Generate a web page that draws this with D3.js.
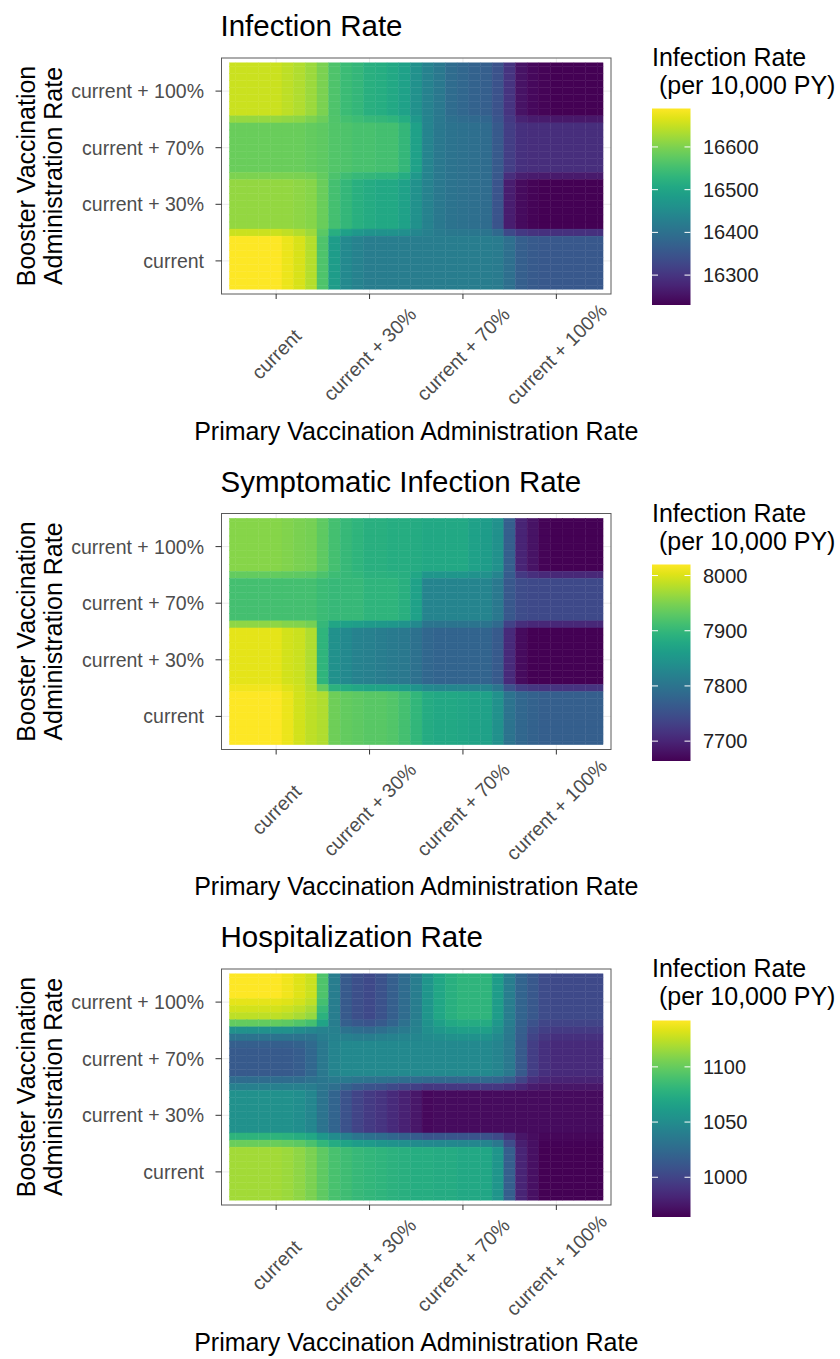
<!DOCTYPE html>
<html>
<head>
<meta charset="utf-8">
<script src="https://cdn.jsdelivr.net/npm/d3@7"></script>
<style>
body { margin: 0; background: #fff; }
svg text { font-family: "Liberation Sans", Arial, Helvetica, sans-serif; }
</style>
</head>
<body>
<div id="viz"></div>
<script>
// Rate levels shared by both axes (0 = current ... 3 = current + 100%)
var rateLabels = ["current", "current + 30%", "current + 70%", "current + 100%"]
var ratePos = [0, 1, 2, 3]

// Centres of the smoothed grid: primary rate (columns, left to right)
var gridX = [-0.5, -0.375, -0.25, -0.125, 0, 0.125, 0.25, 0.375, 0.5, 0.625, 0.75, 0.875, 1,
             1.125, 1.25, 1.375, 1.5, 1.625, 1.75, 1.875, 2, 2.125, 2.25, 2.375, 2.5,
             2.625, 2.75, 2.875, 3, 3.125, 3.25, 3.375, 3.5]
// booster rate (rows, top of the panel first)
var gridY = [3.5, 3.375, 3.25, 3.125, 3, 2.875, 2.75, 2.625, 2.5, 2.375, 2.25, 2.125, 2,
             1.875, 1.75, 1.625, 1.5, 1.375, 1.25, 1.125, 1, 0.875, 0.75, 0.625, 0.5,
             0.375, 0.25, 0.125, 0, -0.125, -0.25, -0.375, -0.5]

var panelTitles = ["Infection Rate", "Symptomatic Infection Rate", "Hospitalization Rate"]
var legendTitle = ["Infection Rate", " (per 10,000 PY)"]

var infectionTicks = [16300, 16400, 16500, 16600]
var symptomaticTicks = [7700, 7800, 7900, 8000]
var hospitalTicks = [1000, 1050, 1100]

// ---- Infection rate per 10,000 PY, one array per distinct row of the grid
var infTop  = [16653,16653,16653,16653,16653,16644,16635,16621,16598,16561,16543,16534,16520,16515,16506,16492,16460,16432,16414,16391,16382,16373,16368,16345,16299,16253,16239,16235,16230,16230,16230,16230,16230]
var infTM   = [16618,16618,16618,16618,16618,16614,16610,16600,16587,16564,16552,16546,16538,16534,16529,16513,16476,16435,16414,16398,16391,16385,16380,16352,16306,16274,16265,16263,16260,16260,16260,16260,16260]
var infMid  = [16584,16584,16584,16584,16584,16584,16584,16580,16575,16566,16561,16557,16557,16552,16552,16534,16492,16437,16414,16405,16400,16396,16391,16359,16313,16294,16290,16290,16290,16290,16290,16290,16290]
var infML   = [16600,16600,16600,16600,16600,16600,16598,16594,16580,16559,16548,16539,16534,16529,16529,16513,16476,16435,16414,16405,16400,16396,16391,16355,16290,16269,16263,16261,16261,16261,16261,16261,16261]
var infLow  = [16616,16616,16616,16616,16616,16616,16612,16607,16584,16552,16534,16520,16511,16506,16506,16492,16460,16432,16414,16405,16400,16396,16391,16350,16267,16244,16235,16231,16231,16231,16231,16231,16231]
var infLB   = [16653,16653,16653,16653,16653,16646,16637,16623,16573,16518,16490,16476,16467,16465,16465,16458,16442,16428,16419,16414,16412,16410,16407,16385,16332,16306,16297,16293,16293,16293,16293,16293,16293]
var infBase = [16690,16690,16690,16690,16690,16676,16662,16639,16561,16483,16446,16432,16423,16423,16423,16423,16423,16423,16423,16423,16423,16423,16423,16419,16396,16368,16359,16354,16354,16354,16354,16354,16354]

var infectionRows = [infTop, infTop, infTop, infTop, infTop, infTop, infTop, infTop, infTM,
    infMid, infMid, infMid, infMid, infMid, infMid, infMid, infML,
    infLow, infLow, infLow, infLow, infLow, infLow, infLow, infLB,
    infBase, infBase, infBase, infBase, infBase, infBase, infBase, infBase]

// ---- Symptomatic infection rate per 10,000 PY
var symTop  = [7956,7956,7956,7956,7956,7952,7949,7945,7931,7913,7903,7895,7888,7888,7885,7885,7881,7878,7878,7878,7878,7867,7860,7842,7771,7700,7682,7668,7664,7664,7664,7664,7664]
var symTM   = [7935,7935,7935,7935,7935,7933,7931,7929,7919,7908,7903,7899,7892,7892,7890,7887,7874,7851,7851,7851,7851,7846,7842,7824,7766,7723,7712,7705,7703,7703,7703,7703,7703]
var symMid  = [7913,7913,7913,7913,7913,7913,7913,7913,7906,7903,7903,7903,7895,7895,7895,7888,7867,7824,7824,7824,7824,7824,7824,7806,7760,7746,7742,7742,7742,7742,7742,7742,7742]
var symML   = [7960,7960,7960,7960,7960,7954,7953,7945,7901,7873,7867,7862,7856,7855,7853,7847,7832,7803,7801,7801,7801,7801,7801,7785,7734,7711,7704,7704,7704,7704,7704,7704,7704]
var symLow  = [8006,8006,8006,8006,8006,7995,7992,7977,7895,7842,7831,7821,7817,7814,7810,7806,7796,7781,7778,7778,7778,7778,7778,7764,7707,7675,7665,7665,7665,7665,7665,7665,7665]
var symLB   = [8013,8013,8013,8013,8013,8002,7994,7981,7936,7892,7883,7876,7872,7871,7867,7860,7848,7831,7828,7828,7826,7824,7823,7803,7753,7728,7720,7718,7718,7718,7718,7718,7718]
var symBase = [8020,8020,8020,8020,8020,8009,7995,7984,7977,7942,7935,7931,7927,7927,7924,7913,7899,7881,7878,7878,7874,7870,7867,7842,7799,7781,7774,7771,7771,7771,7771,7771,7771]

var symptomaticRows = [symTop, symTop, symTop, symTop, symTop, symTop, symTop, symTop, symTM,
    symMid, symMid, symMid, symMid, symMid, symMid, symML,
    symLow, symLow, symLow, symLow, symLow, symLow, symLow, symLow, symLB,
    symBase, symBase, symBase, symBase, symBase, symBase, symBase, symBase]

// ---- Hospitalization rate per 10,000 PY
var hos100  = [1142,1142,1142,1142,1142,1138,1133,1128,1092,1039,1014,1007,1003,1009,1017,1026,1039,1057,1069,1076,1080,1080,1080,1062,1039,1021,1012,1005,1003,1003,1003,1003,1003]
var hosA    = [1135,1135,1135,1135,1135,1133,1130,1124,1089,1039,1014,1007,1003,1009,1017,1026,1039,1057,1069,1076,1080,1080,1080,1062,1039,1021,1012,1005,1003,1003,1003,1003,1003]
var hosB    = [1130,1130,1130,1130,1130,1128,1124,1119,1083,1039,1014,1007,1003,1009,1017,1026,1039,1057,1069,1076,1080,1080,1080,1062,1039,1021,1012,1005,1003,1003,1003,1003,1003]
var hosC    = [1124,1124,1124,1124,1124,1122,1119,1114,1078,1039,1014,1007,1003,1009,1017,1026,1039,1057,1069,1076,1080,1080,1080,1062,1039,1021,1012,1005,1003,1003,1003,1003,1003]
var hosD    = [1099,1099,1099,1099,1099,1098,1094,1089,1067,1039,1017,1012,1010,1014,1021,1030,1041,1055,1064,1071,1073,1073,1073,1058,1039,1019,1009,1001,1000,1000,1000,1000,1000]
var hosE    = [1053,1053,1053,1053,1053,1053,1049,1046,1042,1041,1031,1027,1025,1028,1033,1037,1043,1052,1058,1062,1064,1064,1064,1053,1037,1017,1004,997,994,994,994,994,994]
var hosF    = [1032,1032,1032,1032,1032,1032,1032,1032,1039,1042,1041,1039,1039,1041,1042,1044,1046,1049,1051,1053,1055,1055,1055,1048,1035,1016,1000,992,989,989,989,989,989]
var hosG    = [1017,1017,1017,1017,1017,1017,1019,1025,1035,1044,1048,1048,1048,1048,1048,1048,1048,1048,1048,1048,1048,1048,1048,1044,1035,1014,996,989,985,985,985,985,985]
var hos70   = [1014,1014,1014,1014,1014,1014,1016,1023,1035,1044,1048,1048,1048,1048,1048,1048,1048,1048,1048,1048,1048,1048,1048,1044,1035,1014,996,989,985,985,985,985,985]
var hosH    = [1026,1026,1026,1026,1026,1026,1026,1030,1034,1037,1036,1033,1032,1031,1029,1027,1026,1024,1024,1024,1024,1024,1024,1022,1015,1000,988,983,981,981,981,981,981]
var hosI    = [1041,1041,1041,1041,1041,1041,1041,1039,1033,1028,1020,1014,1010,1008,1004,1000,997,992,993,993,993,993,993,992,989,983,977,975,974,974,974,974,974]
var hos30   = [1053,1053,1053,1053,1053,1053,1051,1046,1032,1021,1009,1000,994,991,985,980,975,968,969,969,969,969,969,969,969,969,969,969,969,969,969,969,969]
var hosJ    = [1079,1079,1079,1079,1079,1078,1075,1070,1058,1049,1040,1033,1029,1026,1022,1018,1015,1010,1011,1011,1010,1010,1009,1004,989,974,970,967,967,967,967,967,967]
var hosK    = [1101,1101,1101,1101,1101,1099,1097,1091,1081,1073,1067,1062,1060,1057,1055,1052,1049,1048,1047,1047,1046,1046,1044,1035,1005,979,971,965,965,965,965,965,965]
var hosCur  = [1117,1117,1117,1117,1117,1115,1112,1106,1098,1090,1087,1083,1081,1080,1078,1076,1074,1074,1073,1073,1071,1071,1069,1057,1017,982,971,964,964,964,964,964,964]

var hospitalRows = [hos100, hos100, hos100, hos100, hosA, hosB, hosC, hosD, hosE, hosF, hosG,
    hos70, hos70, hos70, hos70, hosH, hosI,
    hos30, hos30, hos30, hos30, hos30, hos30, hosJ, hosK,
    hosCur, hosCur, hosCur, hosCur, hosCur, hosCur, hosCur, hosCur]

var panels = [
  {title: panelTitles[0], rows: infectionRows, ticks: infectionTicks},
  {title: panelTitles[1], rows: symptomaticRows, ticks: symptomaticTicks},
  {title: panelTitles[2], rows: hospitalRows, ticks: hospitalTicks}
]

var svg = d3.select("#viz")
    .append("svg")
    .attr("width", 840)
    .attr("height", 1359)

var defs = svg.append("defs")

// vertical viridis gradient used by the colour bars
var grad = defs.append("linearGradient")
    .attr("id", "viridisBar")
    .attr("x1", 0).attr("y1", 1)
    .attr("x2", 0).attr("y2", 0)
grad.selectAll("stop")
    .data(d3.range(0, 1.0001, 0.05))
    .enter()
    .append("stop")
    .attr("offset", d => d)
    .attr("stop-color", d => d3.interpolateViridis(d))

var half = 0.0625
var lo = -0.5, hi = 3.5

function drawPanel(p, i) {
    var dy = i * 455.5
    var ldy = i * 456
    var g = svg.append("g")

    var x = d3.scaleLinear().domain([-0.585, 3.585]).range([221.5, 611])
    var y = d3.scaleLinear().domain([-0.585, 3.585]).range([294 + dy, 58 + dy])

    var cells = []
    p.rows.forEach((row, r) => {
        row.forEach((v, c) => cells.push({x: gridX[c], y: gridY[r], v: v}))
    })
    var ext = d3.extent(cells, d => d.v)
    var color = d3.scaleSequential(d3.interpolateViridis).domain(ext)

    // plot title
    g.append("text")
        .attr("x", 220.5)
        .attr("y", 36 + dy)
        .style("font-size", "29.5px")
        .style("fill", "#000")
        .text(p.title)

    // grid lines under the tiles
    g.selectAll("line.gx")
        .data(ratePos)
        .enter()
        .append("line")
        .attr("x1", d => x(d)).attr("x2", d => x(d))
        .attr("y1", y.range()[0]).attr("y2", y.range()[1])
        .style("stroke", "#ebebeb")
    g.selectAll("line.gy")
        .data(ratePos)
        .enter()
        .append("line")
        .attr("y1", d => y(d)).attr("y2", d => y(d))
        .attr("x1", x.range()[0]).attr("x2", x.range()[1])
        .style("stroke", "#ebebeb")

    // heat tiles
    g.selectAll("rect.cell")
        .data(cells)
        .enter()
        .append("rect")
        .attr("x", d => x(Math.max(d.x - half, lo)))
        .attr("width", d => x(Math.min(d.x + half, hi)) - x(Math.max(d.x - half, lo)))
        .attr("y", d => y(Math.min(d.y + half, hi)))
        .attr("height", d => y(Math.max(d.y - half, lo)) - y(Math.min(d.y + half, hi)))
        .style("fill", d => color(d.v))
        .style("stroke", d => color(d.v))
        .style("stroke-width", 0.4)

    // panel border
    g.append("rect")
        .attr("x", x.range()[0]).attr("y", y.range()[1])
        .attr("width", x.range()[1] - x.range()[0])
        .attr("height", y.range()[0] - y.range()[1])
        .style("fill", "none")
        .style("stroke", "#5a5a5a")
        .style("stroke-width", 1)

    // x ticks and rotated labels
    g.selectAll("line.tx")
        .data(ratePos)
        .enter()
        .append("line")
        .attr("x1", d => x(d)).attr("x2", d => x(d))
        .attr("y1", y.range()[0]).attr("y2", y.range()[0] + 5)
        .style("stroke", "#333")
    g.selectAll("text.tx")
        .data(ratePos)
        .enter()
        .append("text")
        .attr("transform", d => "translate(" + x(d) + "," + (354 + dy) + ") rotate(-45)")
        .attr("text-anchor", "middle")
        .attr("dominant-baseline", "central")
        .style("font-size", "19.5px")
        .style("fill", "#4d4d4d")
        .text(d => rateLabels[d])

    // y ticks and labels
    g.selectAll("line.ty")
        .data(ratePos)
        .enter()
        .append("line")
        .attr("x1", x.range()[0] - 6).attr("x2", x.range()[0])
        .attr("y1", d => y(d)).attr("y2", d => y(d))
        .style("stroke", "#333")
    g.selectAll("text.ty")
        .data(ratePos)
        .enter()
        .append("text")
        .attr("x", 204)
        .attr("y", d => y(d))
        .attr("text-anchor", "end")
        .attr("dominant-baseline", "central")
        .style("font-size", "19.5px")
        .style("fill", "#4d4d4d")
        .text(d => rateLabels[d])

    // axis titles
    g.append("text")
        .attr("x", (x.range()[0] + x.range()[1]) / 2)
        .attr("y", 439.5 + dy)
        .attr("text-anchor", "middle")
        .style("font-size", "25px")
        .text("Primary Vaccination Administration Rate")
    var cy = (y.range()[0] + y.range()[1]) / 2
    g.append("text")
        .attr("transform", "translate(35," + cy + ") rotate(-90)")
        .attr("text-anchor", "middle")
        .style("font-size", "25px")
        .text("Booster Vaccination")
    g.append("text")
        .attr("transform", "translate(62," + cy + ") rotate(-90)")
        .attr("text-anchor", "middle")
        .style("font-size", "25px")
        .text("Administration Rate")

    // legend: title, colour bar, ticks, labels
    g.selectAll("text.lt")
        .data(legendTitle)
        .enter()
        .append("text")
        .attr("x", 652)
        .attr("y", (d, k) => 66 + dy + k * 28)
        .style("font-size", "25px")
        .style("white-space", "pre")
        .attr("xml:space", "preserve")
        .text(d => d)

    var ly = d3.scaleLinear().domain(ext).range([305 + ldy, 108.5 + ldy])
    g.append("rect")
        .attr("x", 652).attr("y", ly.range()[1])
        .attr("width", 38.5)
        .attr("height", ly.range()[0] - ly.range()[1])
        .style("fill", "url(#viridisBar)")
    g.selectAll("line.lk")
        .data(p.ticks)
        .enter()
        .append("line")
        .attr("x1", 652).attr("x2", 658)
        .attr("y1", d => ly(d)).attr("y2", d => ly(d))
        .style("stroke", "#fff")
    g.selectAll("line.lk2")
        .data(p.ticks)
        .enter()
        .append("line")
        .attr("x1", 684.5).attr("x2", 690.5)
        .attr("y1", d => ly(d)).attr("y2", d => ly(d))
        .style("stroke", "#fff")
    g.selectAll("text.lk")
        .data(p.ticks)
        .enter()
        .append("text")
        .attr("x", 703)
        .attr("y", d => ly(d))
        .attr("dominant-baseline", "central")
        .style("font-size", "20px")
        .style("fill", "#222")
        .text(d => d)
}

panels.forEach(drawPanel)
</script>
</body>
</html>
